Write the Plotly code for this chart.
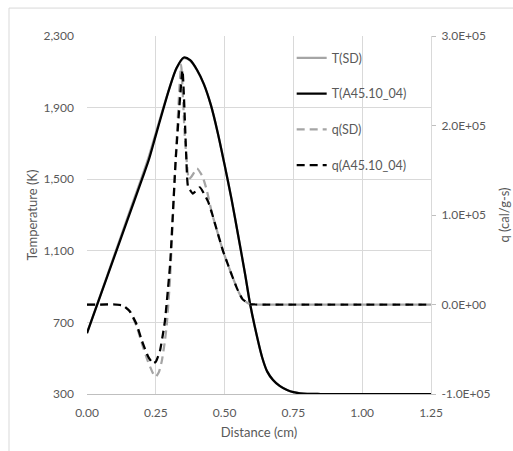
import plotly.graph_objects as go

# ---- data ----
dist_T = [0.0, 0.05, 0.10, 0.15, 0.20, 0.225, 0.25, 0.275, 0.30, 0.325, 0.352, 0.375, 0.40,
          0.425, 0.45, 0.475, 0.50, 0.525, 0.55, 0.575, 0.592, 0.61, 0.636, 0.655, 0.676, 0.70,
          0.727, 0.75, 0.774, 0.80, 0.85, 1.25]
T_A45 = [640, 855, 1070, 1285, 1500, 1610, 1745, 1880, 2010, 2120, 2180, 2165, 2110,
         2030, 1915, 1760, 1580, 1390, 1180, 965, 808, 674, 507, 425, 378, 345,
         322, 310, 304, 301, 300, 300]
T_SD = [640, 858, 1078, 1298, 1515, 1628, 1758, 1888, 2012, 2118, 2176, 2162, 2108,
        2030, 1915, 1760, 1580, 1390, 1180, 965, 808, 674, 507, 425, 378, 345,
        322, 310, 304, 301, 300, 300]

dist_qA = [0.0, 0.05, 0.10, 0.13, 0.156, 0.18, 0.20, 0.222, 0.24, 0.25, 0.265, 0.276, 0.283,
           0.302, 0.323, 0.347, 0.36, 0.367, 0.385, 0.41, 0.44, 0.454, 0.47, 0.494, 0.52, 0.545,
           0.565, 0.59, 0.61, 1.25]
q_A45 = [0, 0, 0, -1000, -7800, -22000, -41000, -58000, -66000, -64000, -52000, -33000, -19000,
         45000, 165000, 262000, 171000, 132000, 124000, 131000, 115000, 102000, 85000, 60000, 38000, 18000,
         6000, 500, 0, 0]

dist_qS = [0.0, 0.05, 0.10, 0.13, 0.156, 0.18, 0.20, 0.222, 0.24, 0.25, 0.262, 0.272, 0.283,
           0.29, 0.302, 0.32, 0.342, 0.355, 0.37, 0.38, 0.40, 0.42, 0.435, 0.454, 0.47, 0.494, 0.52,
           0.545, 0.565, 0.59, 0.61, 1.25]
q_SD = [0, 0, 0, -1000, -8000, -24000, -44000, -64000, -77000, -81000, -75000, -63000, -41000,
        -22000, 30000, 150000, 268000, 190000, 140000, 143000, 152000, 143000, 128000, 102000, 85000, 60000, 38000,
        18000, 6000, 500, 0, 0]

q_tickvals = [-100000, 0, 100000, 200000, 300000]
q_ticktext = ["-1.0E+05", "0.0E+00", "1.0E+05", "2.0E+05", "3.0E+05"]
T_tickvals = [300, 700, 1100, 1500, 1900, 2300]
x_tickvals = [0.0, 0.25, 0.5, 0.75, 1.0, 1.25]

GRAY = "#a5a5a5"
TXT = "#595959"
FONT = "Lato"

fig = go.Figure()
fig.add_trace(go.Scatter(x=dist_T, y=T_SD, name="T(SD)", mode="lines", legendgroup="a",
                         line=dict(color=GRAY, width=2.25, shape="spline", smoothing=0.8)))
fig.add_trace(go.Scatter(x=dist_T, y=T_A45, name="T(A45.10_04)", mode="lines", legendgroup="b",
                         line=dict(color="#000000", width=2.25, shape="spline", smoothing=0.8)))
fig.add_trace(go.Scatter(x=dist_qS, y=q_SD, name="q(SD)", mode="lines", yaxis="y2", legendgroup="c",
                         line=dict(color=GRAY, width=2.25, dash="8px,5px", shape="spline", smoothing=0.4)))
fig.add_trace(go.Scatter(x=dist_qA, y=q_A45, name="q(A45.10_04)", mode="lines", yaxis="y2", legendgroup="d",
                         line=dict(color="#000000", width=2.25, dash="8px,5px", shape="spline", smoothing=0.4)))

fig.update_layout(
    width=513, height=451,
    margin=dict(l=87, r=82, t=36, b=57, autoexpand=False),
    paper_bgcolor="white", plot_bgcolor="white",
    font=dict(family=FONT, size=12, color=TXT),
    showlegend=True,
    legend=dict(x=0.595, y=0.98, xanchor="left", yanchor="top", bgcolor="rgba(0,0,0,0)",
                font=dict(family=FONT, size=12.5, color=TXT), traceorder="grouped",
                tracegroupgap=16.5, itemwidth=30),
    xaxis=dict(range=[0, 1.25], tickvals=x_tickvals, tickformat=".2f", showgrid=True,
               gridcolor="#d9d9d9", gridwidth=1, zeroline=False, showline=True,
               linecolor="#bfbfbf", linewidth=1, ticks="",
               title=dict(text="Distance (cm)", font=dict(size=13, color=TXT), standoff=8),
               tickfont=dict(size=12, color=TXT), ticklabelstandoff=8),
    yaxis=dict(range=[300, 2300], tickvals=T_tickvals, tickformat=",", showgrid=True,
               gridcolor="#d9d9d9", gridwidth=1, zeroline=False, showline=False, ticks="",
               title=dict(text="Temperature (K)", font=dict(size=13, color=TXT), standoff=2),
               tickfont=dict(size=12, color=TXT), ticklabelstandoff=12),
    yaxis2=dict(range=[-100000, 300000], tickvals=q_tickvals, ticktext=q_ticktext,
                overlaying="y", side="right", showgrid=False, zeroline=False,
                showline=True, linecolor="#d9d9d9", linewidth=1,
                ticks="outside", ticklen=4, tickcolor="#bfbfbf",
                title=dict(text="q (cal/g-s)", font=dict(size=13, color=TXT), standoff=10),
                tickfont=dict(size=12, color=TXT), ticklabelstandoff=3),
    shapes=[dict(type="rect", xref="paper", yref="paper", x0=-0.2267, x1=1.259, y0=-0.184, y1=1.078,
                 line=dict(color="#d9d9d9", width=1), fillcolor="rgba(0,0,0,0)", layer="below")],
)

fig.write_html("out.html")
